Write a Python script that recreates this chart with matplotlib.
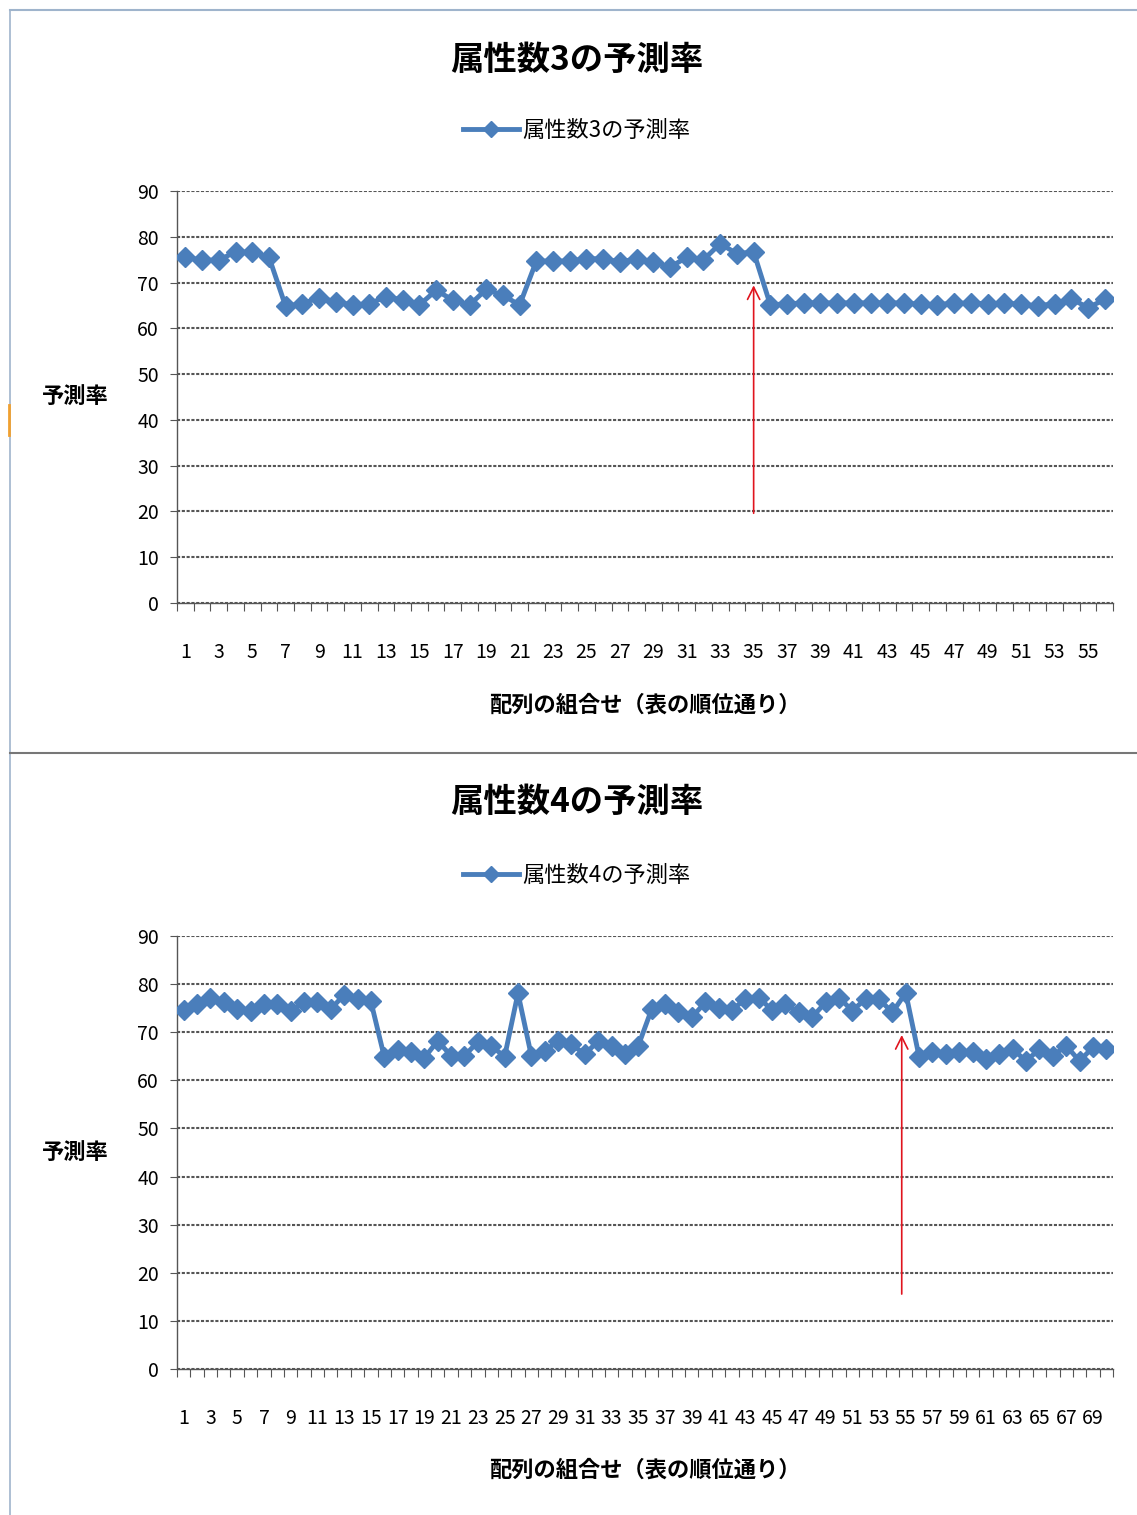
import matplotlib
matplotlib.use("Agg")
import matplotlib.pyplot as plt
from matplotlib.lines import Line2D

plt.rcParams['font.family'] = ['Noto Sans CJK JP', 'DejaVu Sans']

# prediction rate per combination, 3 attributes
rate3 = [75.5, 74.9, 74.9, 76.7, 76.6, 75.6, 64.8, 65.4, 66.7, 65.8,
         65.1, 65.4, 66.9, 66.2, 65.1, 68.3, 66.2, 65.1, 68.5, 67.2,
         65.1, 74.7, 74.7, 74.7, 75.2, 75.2, 74.5, 75.2, 74.5, 73.4,
         75.5, 75.0, 78.5, 76.3, 76.7, 65.1, 65.4, 65.5, 65.6, 65.5,
         65.6, 65.5, 65.6, 65.5, 65.3, 65.2, 65.5, 65.5, 65.4, 65.5,
         65.3, 64.9, 65.4, 66.5, 64.5, 66.3]

# prediction rate per combination, 4 attributes
rate4 = [74.6, 75.8, 77.2, 76.2, 74.8, 74.5, 75.8, 75.8, 74.5, 76.2,
         76.2, 74.8, 77.8, 76.9, 76.4, 64.9, 66.3, 65.8, 64.7, 68.2,
         65.1, 65.1, 68.0, 67.2, 64.9, 78.1, 65.1, 66.1, 68.2, 67.5,
         65.4, 68.2, 67.2, 65.4, 67.2, 74.8, 75.8, 74.1, 73.1, 76.2,
         75.1, 74.6, 76.9, 77.2, 74.6, 75.8, 74.1, 73.1, 76.2, 77.2,
         74.5, 76.9, 76.9, 74.1, 78.2, 64.9, 65.8, 65.4, 65.8, 65.8,
         64.4, 65.4, 66.5, 64.0, 66.5, 65.1, 67.2, 64.0, 66.9, 66.5]

titles = ['属性数3の予測率', '属性数4の予測率']
xlabel = '配列の組合せ（表の順位通り）'
ylabel = '予測率'
# where the red arrow points (category, tail value, head value)
arrows = [(35, 19, 70), (54.7, 15, 70)]

blue = '#4a7ebb'
W, H = 1137, 1515
fig = plt.figure(figsize=(W / 100, H / 100), dpi=100)

def fx(px):
    return px / W

def fy(py):
    return 1 - py / H

panels = [
    dict(data=rate3, title=titles[0], top=191, bottom=603, title_y=60, leg_y=130, ylab_y=396, xlab_y=705, arrow=arrows[0]),
    dict(data=rate4, title=titles[1], top=936, bottom=1369, title_y=802, leg_y=875, ylab_y=1152, xlab_y=1470, arrow=arrows[1]),
]

for p in panels:
    n = len(p['data'])
    x = list(range(1, n + 1))
    ax = fig.add_axes([fx(177), fy(p['bottom']), fx(1113 - 177), (p['bottom'] - p['top']) / H])
    line, = ax.plot(x, p['data'], color=blue, lw=3.5, marker='D', ms=10,
                    mfc=blue, mec=blue, label=p['title'], zorder=3)
    ax.set_xlim(0.5, n + 0.5)
    ax.set_ylim(0, 90)
    ax.set_yticks(range(0, 91, 10))
    ax.set_xticks(range(1, n + 1, 2))
    ax.set_xticks([k + 0.5 for k in range(0, n + 1)], minor=True)
    ax.tick_params(axis='x', which='major', length=0, pad=28, labelsize=14)
    ax.tick_params(axis='x', which='minor', length=6, width=0.8, color='#555555', direction='out')
    ax.tick_params(axis='y', length=5, width=0.8, color='#555555', pad=8, labelsize=14)
    ax.grid(axis='y', color='#555555', lw=1.5, ls=(0, (1.5, 0.8)))
    for s in ['top', 'right']:
        ax.spines[s].set_visible(False)
    for s in ['left', 'bottom']:
        ax.spines[s].set_color('#555555')
        ax.spines[s].set_linewidth(1.0)
    ax.set_axisbelow(True)

    ax_x, tail, head = p['arrow']
    ax.annotate('', xy=(ax_x, head), xytext=(ax_x, tail),
                arrowprops=dict(arrowstyle='->', color='#e0141e', lw=1.2, mutation_scale=22),
                zorder=4)

    fig.text(fx(577), fy(p['title_y']), p['title'], ha='center', va='center',
             fontsize=24, fontweight='bold')
    ax.legend(handles=[line], loc='center', bbox_to_anchor=(fx(577), fy(p['leg_y'])),
              bbox_transform=fig.transFigure, frameon=False, fontsize=16,
              handlelength=2.5, handletextpad=0.15, markerscale=0.8)
    fig.text(fx(75), fy(p['ylab_y']), ylabel, ha='center', va='center',
             fontsize=16, fontweight='bold')
    fig.text(fx(645), fy(p['xlab_y']), xlabel, ha='center', va='center',
             fontsize=16, fontweight='bold')

# window frame lines
fig.add_artist(Line2D([fx(10), fx(10)], [0, fy(10)], color='#9fb4cc', lw=1.2))
fig.add_artist(Line2D([fx(10), 1], [fy(10), fy(10)], color='#9fb4cc', lw=1.5))
fig.add_artist(Line2D([fx(10), 1], [fy(753), fy(753)], color='#777777', lw=1.5))
fig.add_artist(Line2D([fx(9), fx(9)], [fy(405), fy(435)], color='#f0a030', lw=2))

fig.savefig('out.png', dpi=100, facecolor='white')
